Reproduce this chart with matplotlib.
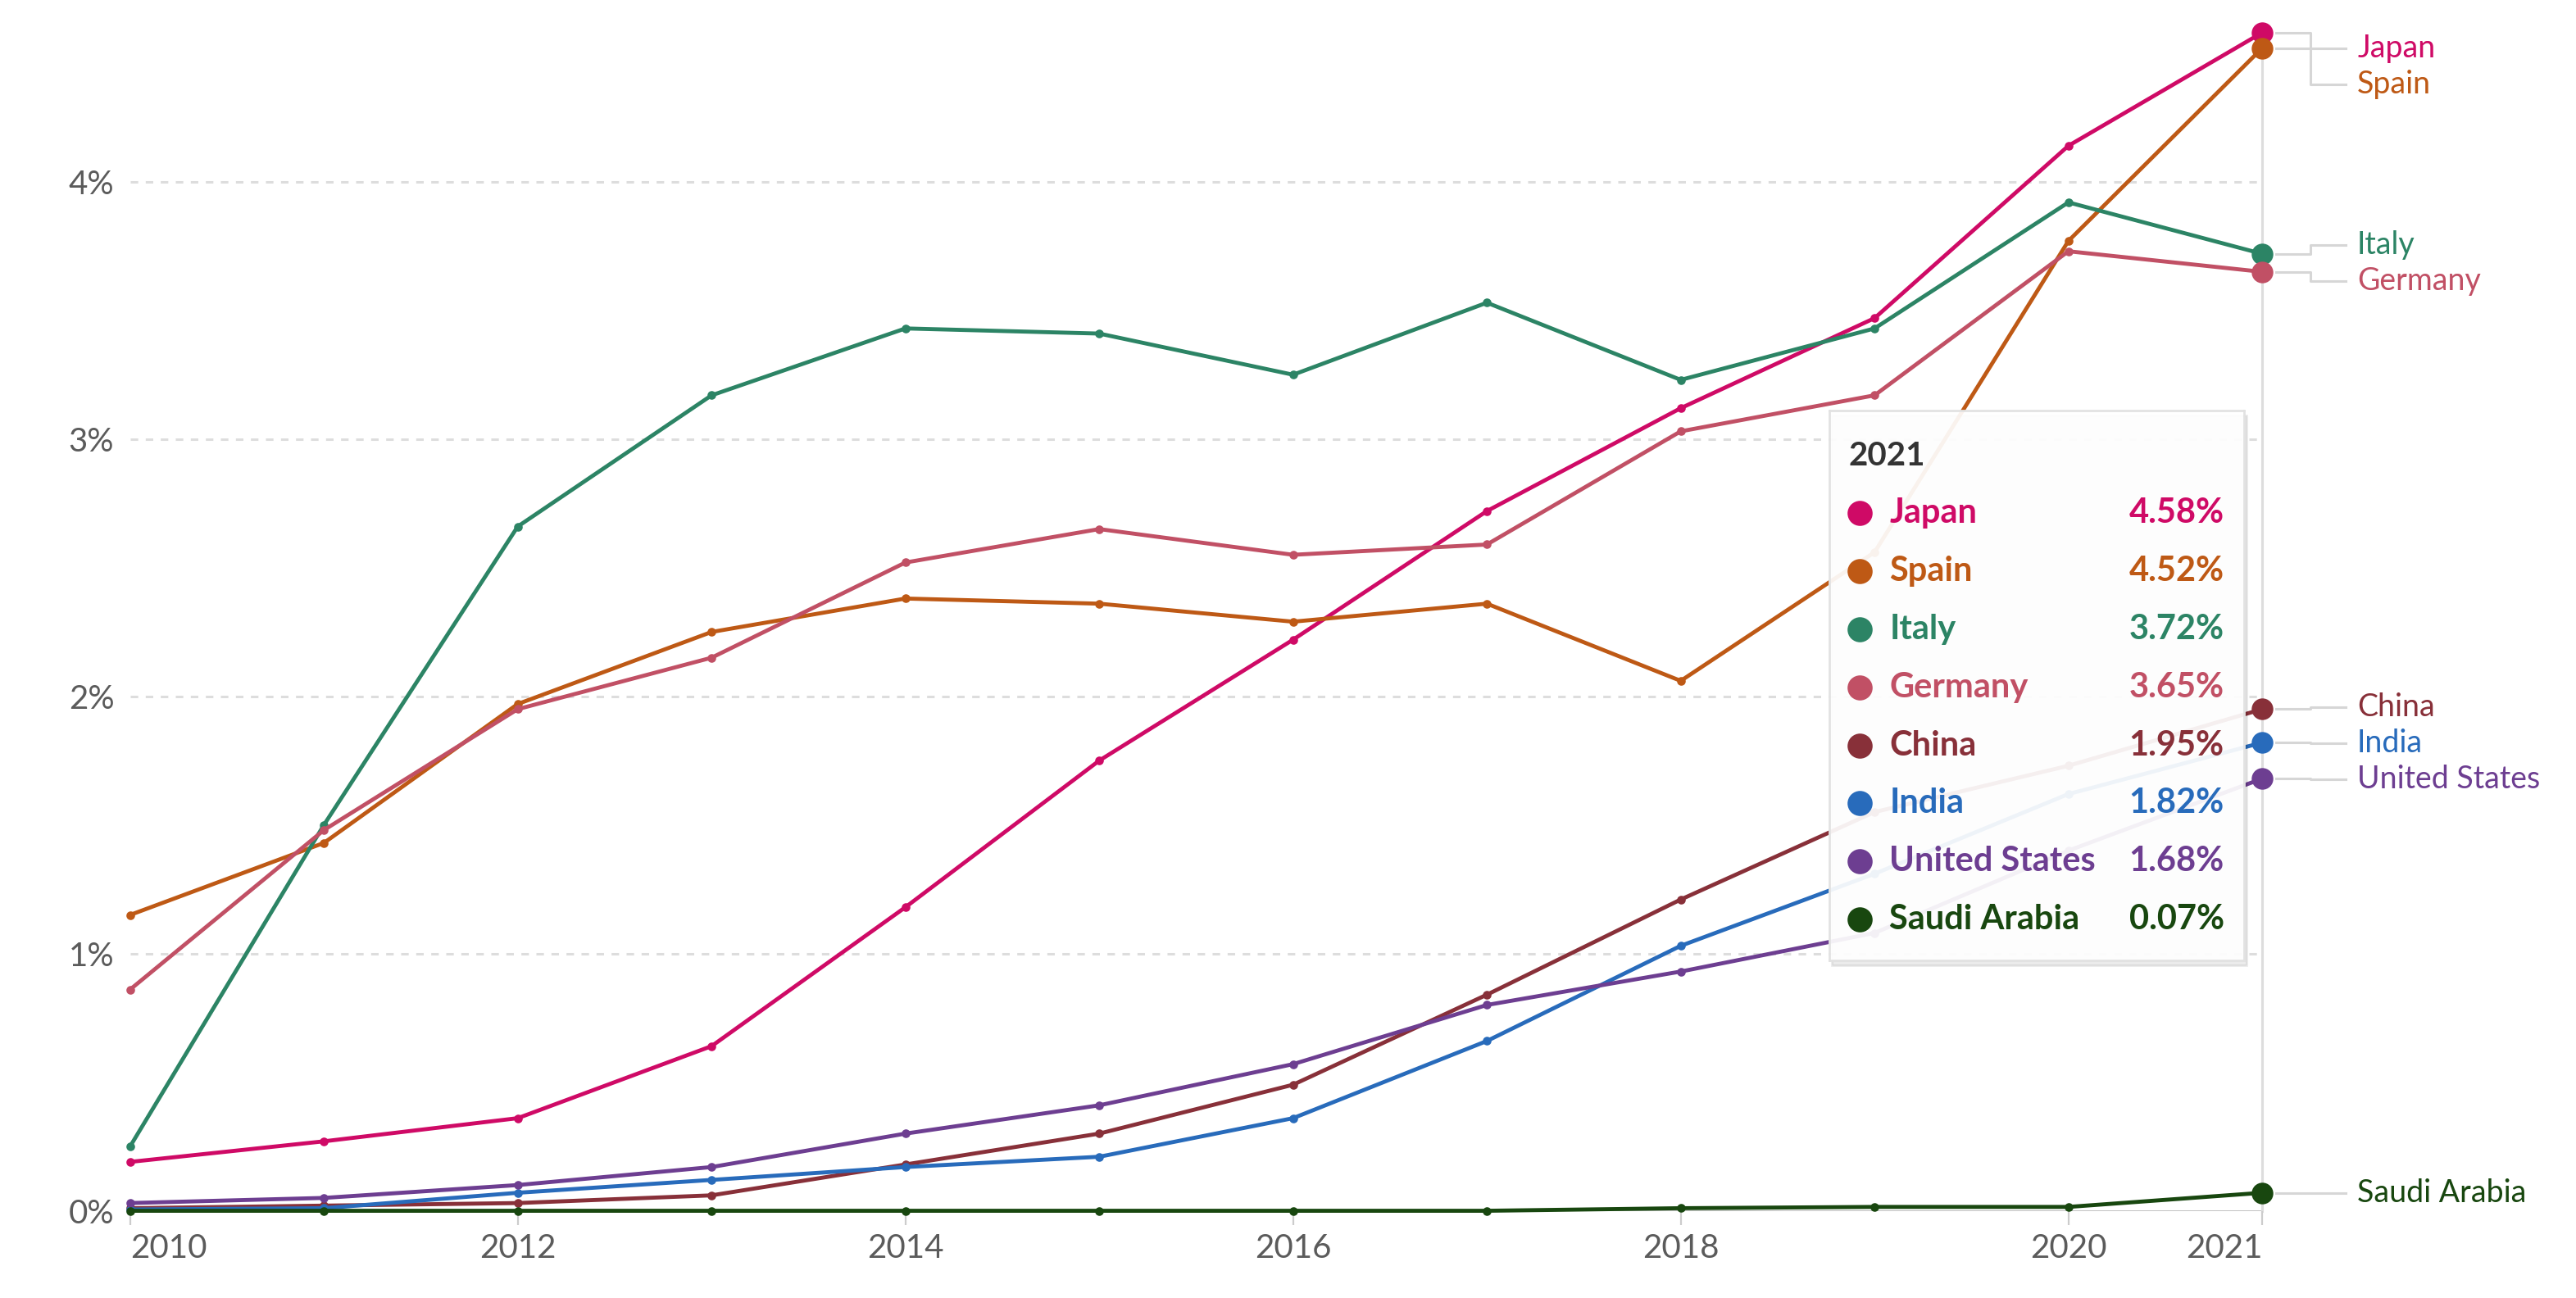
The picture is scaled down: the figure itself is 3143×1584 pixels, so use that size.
import matplotlib
matplotlib.use("Agg")
import matplotlib.pyplot as plt
from matplotlib.patches import Rectangle

plt.rcParams["font.family"] = ["Lato", "DejaVu Sans"]

years = [2010, 2011, 2012, 2013, 2014, 2015, 2016, 2017, 2018, 2019, 2020, 2021]

countries = ["Japan", "Spain", "Italy", "Germany", "China", "India", "United States", "Saudi Arabia"]
colors = ["#CF0A66", "#BE5915", "#2C8465", "#C15065", "#883039", "#286BBB", "#6D3E91", "#18470F"]

japan = [0.19, 0.27, 0.36, 0.64, 1.18, 1.75, 2.22, 2.72, 3.12, 3.47, 4.14, 4.58]
spain = [1.15, 1.43, 1.97, 2.25, 2.38, 2.36, 2.29, 2.36, 2.06, 2.56, 3.77, 4.52]
italy = [0.25, 1.50, 2.66, 3.17, 3.43, 3.41, 3.25, 3.53, 3.23, 3.43, 3.92, 3.72]
germany = [0.86, 1.48, 1.95, 2.15, 2.52, 2.65, 2.55, 2.59, 3.03, 3.17, 3.73, 3.65]
china = [0.01, 0.02, 0.03, 0.06, 0.18, 0.30, 0.49, 0.84, 1.21, 1.55, 1.73, 1.95]
india = [0.005, 0.01, 0.07, 0.12, 0.17, 0.21, 0.36, 0.66, 1.03, 1.31, 1.62, 1.82]
usa = [0.03, 0.05, 0.10, 0.17, 0.30, 0.41, 0.57, 0.80, 0.93, 1.08, 1.40, 1.68]
saudi = [0.0, 0.0, 0.0, 0.0, 0.0, 0.0, 0.0, 0.0, 0.01, 0.015, 0.015, 0.07]

series = [japan, spain, italy, germany, china, india, usa, saudi]

yticks = [0, 1, 2, 3, 4]
xticks = [2010, 2012, 2014, 2016, 2018, 2020, 2021]

fig = plt.figure(figsize=(3143 / 200, 1584 / 200), dpi=200)
ax = fig.add_axes([0.0505, 0.0672, 0.8277, 0.9176])
ax.set_xlim(2010, 2021)
ax.set_ylim(0, 4.63)

for s in ax.spines.values():
    s.set_visible(False)

# grid
for v in yticks[1:]:
    ax.axhline(v, color="#dddddd", lw=1.1, ls=(0, (3, 3)), zorder=0)
ax.axhline(0, color="#bbbbbb", lw=1.0, zorder=0)
ax.plot([2021, 2021], [0, max(japan)], color="#dddddd", lw=1.1, zorder=0, clip_on=False)

for name, vals, c in zip(countries, series, colors):
    ax.plot(years, vals, color=c, lw=1.75, marker="o", ms=2.8, clip_on=False, zorder=3)
    ax.plot(years[-1], vals[-1], "o", color=c, ms=8.5, clip_on=False, zorder=4)

ax.set_yticks(yticks)
ax.set_yticklabels([f"{v}%" for v in yticks])
ax.tick_params(axis="y", length=0, pad=7, labelsize=14.5, labelcolor="#5b5b5b")
ax.set_xticks(xticks)
ax.set_xticklabels([str(y) for y in xticks])
ax.tick_params(axis="x", length=6, width=0.8, color="#cccccc", pad=4,
               labelsize=14.5, labelcolor="#5b5b5b")
xlabels = ax.get_xticklabels()
xlabels[0].set_ha("left")
xlabels[-1].set_ha("right")

# end labels with simple repel
last = [s[-1] for s in series]
order = sorted(range(len(last)), key=lambda i: -last[i])
lab_y = {i: last[i] for i in order}
gap, top_cap = 0.14, 4.52
for _ in range(200):
    for a, b in zip(order[:-1], order[1:]):
        d = lab_y[a] - lab_y[b]
        if d < gap:
            lab_y[a] += (gap - d) / 2
            lab_y[b] -= (gap - d) / 2
    if lab_y[order[0]] > top_cap:
        lab_y[order[0]] = top_cap

for i in order:
    yv, ly = last[i], lab_y[i]
    ax.plot([2021.07, 2021.25, 2021.25, 2021.43], [yv, yv, ly, ly],
            color="#d6d6d6", lw=1.1, clip_on=False, zorder=1)
    ax.text(2021.49, ly, countries[i], color=colors[i], fontsize=13.5,
            va="center", ha="left", clip_on=False)

# tooltip box
box = [0.710, 0.260, 0.161, 0.424]
fig.patches.append(Rectangle((box[0] + 0.001, box[1] - 0.004), box[2], box[3],
                             transform=fig.transFigure, color="#000000", alpha=0.08,
                             zorder=9))
tip = fig.add_axes(box, zorder=10)
tip.set_facecolor("white")
tip.patch.set_alpha(0.93)
tip.set_xticks([])
tip.set_yticks([])
for s in tip.spines.values():
    s.set_color("#e2e2e2")
    s.set_linewidth(1.0)
tip.set_xlim(0, 1)
tip.set_ylim(0, 1)
tip.text(0.047, 0.917, str(years[-1]), fontsize=14.5, fontweight="bold",
         color="#333333", va="center", ha="left")
row_y0, row_step = 0.8125, 0.1054
for k, i in enumerate(order):
    yy = row_y0 - k * row_step
    tip.plot(0.075, yy, "o", color=colors[i], ms=10)
    tip.text(0.146, yy, countries[i], color=colors[i], fontsize=15,
             fontweight="bold", va="center", ha="left")
    tip.text(0.953, yy, f"{last[i]:.2f}%", color=colors[i], fontsize=15,
             fontweight="bold", va="center", ha="right")

fig.savefig("out.png", dpi=200, facecolor="white")
